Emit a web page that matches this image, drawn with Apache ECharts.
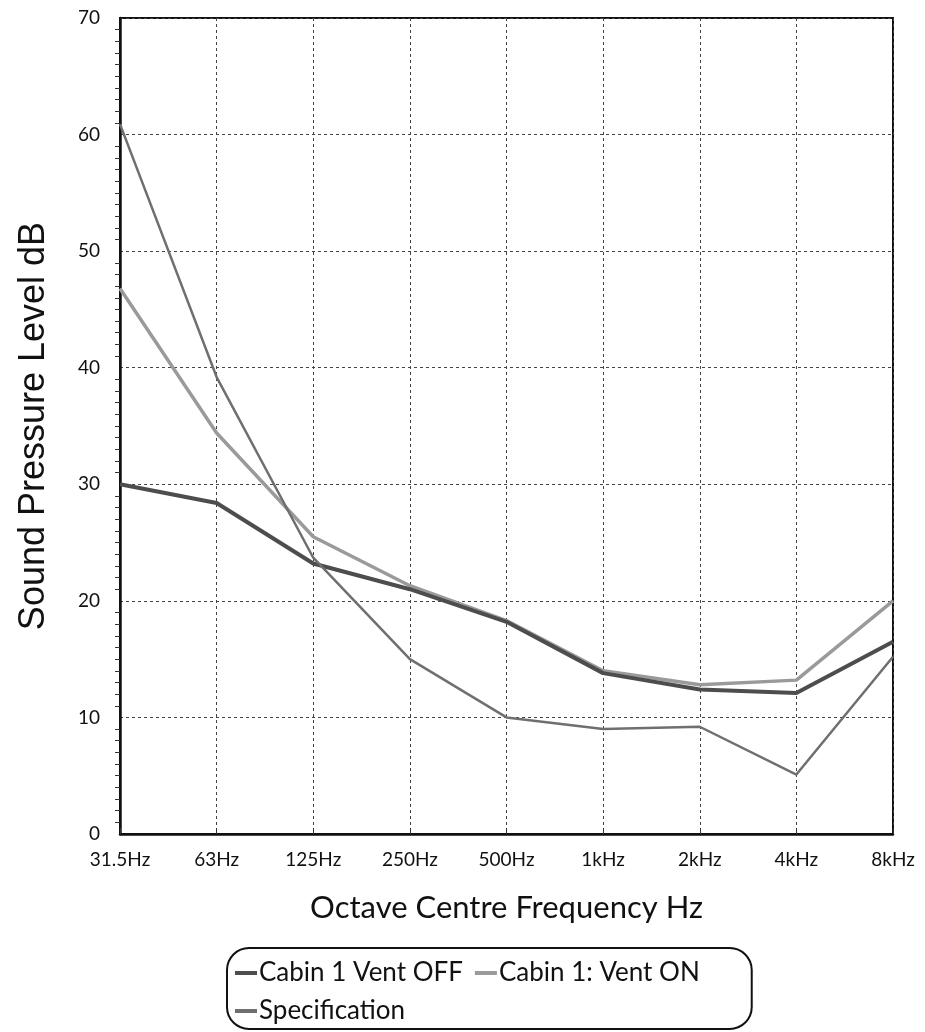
<!DOCTYPE html>
<html>
<head>
<meta charset="utf-8">
<script src="https://cdn.jsdelivr.net/npm/echarts@6/dist/echarts.min.js"></script>
<style>
html,body{margin:0;padding:0;background:#fff;}
#chart{width:925px;height:1032px;}
</style>
</head>
<body>
<div id="chart"></div>
<script>
const categories = ['31.5Hz','63Hz','125Hz','250Hz','500Hz','1kHz','2kHz','4kHz','8kHz'];
const ventOff = [30.0, 28.4, 23.2, 21.0, 18.2, 13.8, 12.4, 12.1, 16.5];
const ventOn  = [46.8, 34.4, 25.5, 21.3, 18.3, 14.0, 12.8, 13.2, 20.0];
const spec    = [60.9, 39.2, 23.7, 15.0, 10.0, 9.0, 9.2, 5.1, 15.2];
const yTicks = [0, 10, 20, 30, 40, 50, 60, 70];

const chart = echarts.init(document.getElementById('chart'), null, {renderer: 'canvas'});
const tickFont = 'Lato, "Open Sans", sans-serif';
chart.setOption({
  backgroundColor: '#ffffff',
  animation: false,
  grid: {
    left: 120, right: 32, top: 18, bottom: 198,
    show: true, borderColor: '#111', borderWidth: 2, backgroundColor: 'transparent'
  },
  xAxis: {
    type: 'category',
    data: categories,
    boundaryGap: false,
    name: 'Octave Centre Frequency Hz',
    nameLocation: 'middle',
    nameGap: 58,
    nameTextStyle: {fontFamily: tickFont, fontSize: 31, color: '#111'},
    axisLine: {show: true, lineStyle: {color: '#111', width: 2.5}},
    axisTick: {show: true, inside: true, length: 6, lineStyle: {color: '#333'}},
    axisLabel: {fontFamily: tickFont, fontSize: 19, color: '#111', margin: 16},
    splitLine: {show: true, lineStyle: {color: '#444', width: 1, type: [3, 3]}}
  },
  yAxis: {
    type: 'value',
    min: 0, max: 70, interval: 10,
    name: 'Sound Pressure Level dB',
    nameLocation: 'middle',
    nameGap: 68,
    nameRotate: 90,
    nameTextStyle: {fontFamily: '"Liberation Sans", Arial, sans-serif', fontSize: 36, color: '#111'},
    axisLine: {show: true, lineStyle: {color: '#111', width: 2.5}},
    axisTick: {show: false},
    minorTick: {show: true, splitNumber: 10, length: 5, lineStyle: {color: '#333', width: 1}},
    axisLabel: {
      fontFamily: tickFont, fontSize: 19, color: '#111', margin: 20,
      formatter: v => yTicks.includes(v) ? String(v) : ''
    },
    splitLine: {show: true, lineStyle: {color: '#444', width: 1, type: [3, 3]}}
  },
  legend: {
    left: 227, top: 948,
    width: 470,
    orient: 'horizontal',
    padding: [12, 52, 5, 8],
    itemGap: 12,
    itemWidth: 22,
    itemHeight: 4,
    icon: 'rect',
    borderColor: '#111', borderWidth: 2, borderRadius: 22,
    textStyle: {fontFamily: tickFont, fontSize: 26, color: '#111', padding: [0, 0, 0, -3]},
    data: ['Cabin 1 Vent OFF', 'Cabin 1: Vent ON', 'Specification']
  },
  series: [
    {
      name: 'Cabin 1 Vent OFF', type: 'line', data: ventOff,
      symbol: 'none', z: 3,
      lineStyle: {color: '#4d4d4d', width: 4}, itemStyle: {color: '#4d4d4d'}
    },
    {
      name: 'Cabin 1: Vent ON', type: 'line', data: ventOn,
      symbol: 'none', z: 2,
      lineStyle: {color: '#9a9a9a', width: 3.5}, itemStyle: {color: '#9a9a9a'}
    },
    {
      name: 'Specification', type: 'line', data: spec,
      symbol: 'none', z: 4,
      lineStyle: {color: '#6f6f6f', width: 2.5}, itemStyle: {color: '#6f6f6f'}
    }
  ]
});
</script>
</body>
</html>
